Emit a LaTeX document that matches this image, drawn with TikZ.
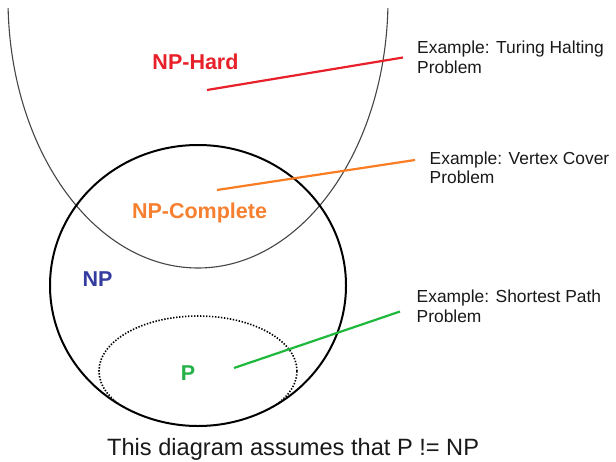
\documentclass[tikz,border=0pt]{standalone}
\usepackage{fontspec}
\setmainfont{Liberation Sans}
\definecolor{hardred}{RGB}{232,32,42}
\definecolor{compor}{RGB}{246,128,48}
\definecolor{lineor}{RGB}{250,125,35}
\definecolor{npblue}{RGB}{52,60,160}
\definecolor{pgreen}{RGB}{36,178,72}
\definecolor{linegr}{RGB}{30,185,60}
\definecolor{ucurve}{RGB}{70,70,70}
\begin{document}
\begin{tikzpicture}[x=1pt,y=-1pt,
  lbl/.style={font=\fontsize{21.5}{24}\selectfont\bfseries, inner sep=0pt, anchor=base},
  extext/.style={font=\fontsize{17.4}{19.2}\selectfont, align=left, inner sep=0pt, anchor=base west, text=black!90},
  leader/.style={line width=2.2pt},
  pdot/.style={line width=1.6pt, dash pattern=on 1.4pt off 1.6pt, black},
  ]
\useasboundingbox[fill=white] (0,0) rectangle (616,461);
% NP-Hard region (U shape)
\begin{scope}
  \clip (0,8) rectangle (616,461);
  \draw[line width=1.1pt, ucurve] (198,-1) ellipse [x radius=190pt, y radius=269pt];
\end{scope}
% NP circle
\draw[line width=2pt] (198,285.5) ellipse [x radius=148pt, y radius=140.5pt];
% P region (dotted)
\begin{scope}
  \clip (198,285.5) ellipse [x radius=147pt, y radius=139.5pt];
  \draw[pdot] (198,371) ellipse [x radius=99pt, y radius=55pt];
\end{scope}
% labels
\node[lbl, text=hardred] (hard) at (195.5,69.3) {NP-Hard};
\node[lbl, text=compor] (comp) at (199.5,218.3) {NP-Complete};
\node[lbl, text=npblue] (np) at (97.5,286.7) {NP};
\node[lbl, text=pgreen] (p) at (188,380) {P};
% examples (base anchor = last line)
\node[extext] (ex1) at (417,73) {Example: Turing Halting\\Problem};
\node[extext] (ex2) at (429.5,183.8) {Example: Vertex Cover\\Problem};
\node[extext] (ex3) at (416.5,322) {Example: Shortest Path\\Problem};
% leader lines
\coordinate (hA) at (207,90);   \coordinate (hB) at (403,57.5);
\coordinate (cA) at (217,190);  \coordinate (cB) at (415,160);
\coordinate (pA) at (234,368);  \coordinate (pB) at (400,311.5);
\draw[leader, hardred] (hA) -- (hB);
\draw[leader, lineor] (cA) -- (cB);
\draw[leader, linegr] (pA) -- (pB);
% note
\node[font=\fontsize{23.6}{26}\selectfont, inner sep=0pt, anchor=base west, text=black!90] (note) at (107,455) {This diagram assumes that P != NP};
\end{tikzpicture}
\end{document}
